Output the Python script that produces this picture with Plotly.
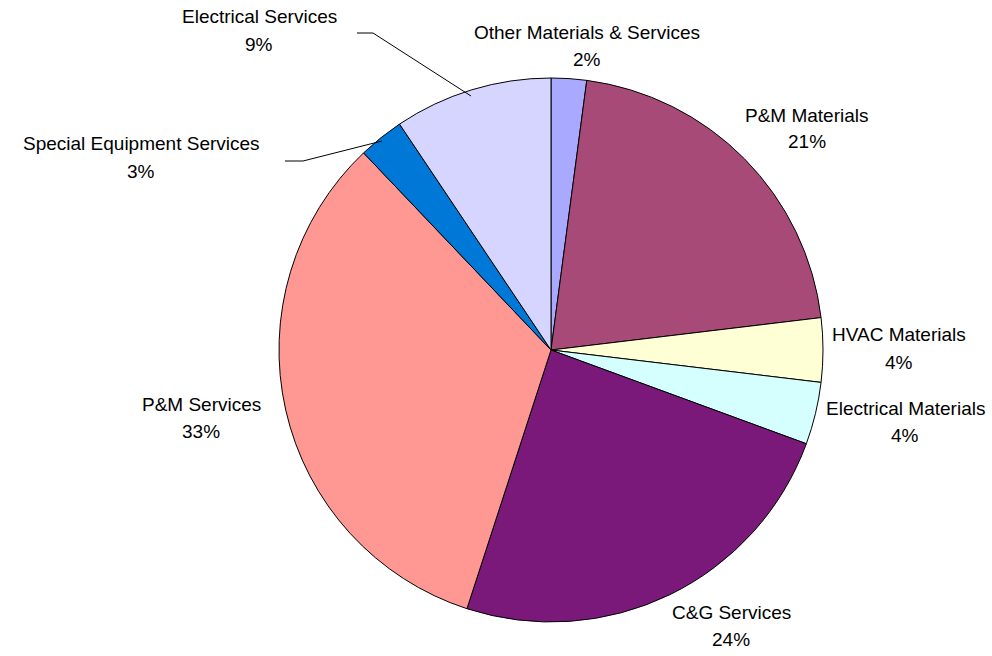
import plotly.graph_objects as go

W, H = 992, 656

categories = ["Other Materials & Services", "P&M Materials", "HVAC Materials",
              "Electrical Materials", "C&G Services", "P&M Services",
              "Special Equipment Services", "Electrical Services"]
values = [2.1, 21.0, 3.8, 3.7, 24.4, 32.9, 2.7, 9.4]
colors = ["#A9AAFF", "#A84A77", "#FFFFD5", "#D5FFFF", "#7B197A", "#FF9893",
          "#0078D7", "#D5D5FF"]

# label placement (pixel centres of the name line), layout only
label_pos = {
    "Other Materials & Services": (587, 33),
    "P&M Materials": (807, 115),
    "HVAC Materials": (899, 335),
    "Electrical Materials": (905, 408),
    "C&G Services": (731, 612),
    "P&M Services": (201, 404),
    "Special Equipment Services": (141, 144),
    "Electrical Services": (259, 17),
}
leaders = {
    "Electrical Services": [(357, 33), (373, 33), (471, 96)],
    "Special Equipment Services": [(285, 161), (303, 161), (382, 141)],
}

cx, cy, r = 551, 350, 272

fig = go.Figure(go.Pie(
    labels=categories, values=values, sort=False, direction="clockwise",
    rotation=0, textinfo="none", hoverinfo="label+percent",
    marker=dict(colors=colors, line=dict(color="#000000", width=1)),
    domain=dict(x=[(cx - r) / W, (cx + r) / W], y=[1 - (cy + r) / H, 1 - (cy - r) / H]),
    showlegend=False,
))

total = sum(values)
font = dict(family="Liberation Sans, Arial, sans-serif", size=19, color="#000000")
annotations = []
for cat, v in zip(categories, values):
    x, y = label_pos[cat]
    pct = f"{round(v / total * 100)}%"
    for txt, dy in ((cat, 0), (pct, 27)):
        annotations.append(dict(text=txt, x=x / W, y=1 - (y + dy) / H, xref="paper",
                                yref="paper", xanchor="center", yanchor="middle",
                                showarrow=False, font=font))

shapes = []
for cat, pts in leaders.items():
    path = "M " + " L ".join(f"{px / W},{1 - py / H}" for px, py in pts)
    shapes.append(dict(type="path", path=path, xref="paper", yref="paper",
                       line=dict(color="#000000", width=1)))

fig.update_layout(width=W, height=H, margin=dict(l=0, r=0, t=0, b=0),
                  paper_bgcolor="#FFFFFF", plot_bgcolor="#FFFFFF",
                  annotations=annotations, shapes=shapes)
fig.write_html("out.html")
